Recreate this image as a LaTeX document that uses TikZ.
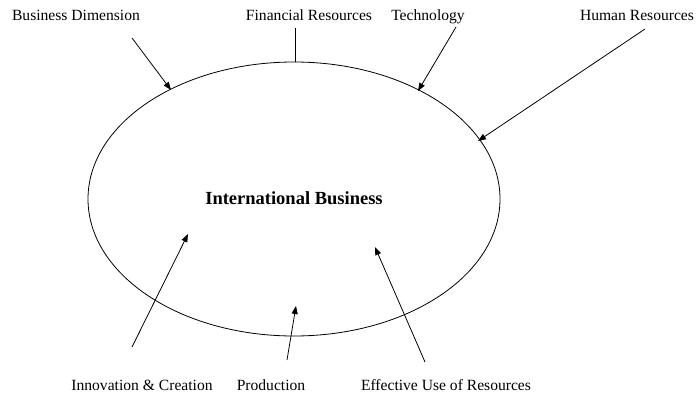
\documentclass[tikz,border=0pt]{standalone}
\usepackage{fontspec}
\setmainfont{Liberation Serif}
\usetikzlibrary{arrows.meta}
\tikzset{>={Triangle[length=8pt,width=6pt]}}

\begin{document}
\begin{tikzpicture}[x=1pt,y=-1pt,line width=.8pt,
  factor/.style={font=\fontsize{15.6}{18}\selectfont,inner sep=0pt,anchor=base}]
\useasboundingbox (0,0) rectangle (696,396);

% The business circle
\coordinate (ctr) at (294,199);
\draw (ctr) ellipse [x radius=206pt, y radius=137pt];
\node [font=\fontsize{18.5}{22}\selectfont\bfseries] (ib) at (294,198) {International Business};

% Factors on top
\node [factor] (bd)   at (76,21)  {Business Dimension};
\node [factor] (fr)   at (309,21) {Financial Resources};
\node [factor] (tech) at (428,21) {Technology};
\node [factor] (hr)   at (637,21) {Human Resources};

% Factors at the bottom
\node [factor] (inno) at (142,390) {Innovation \& Creation};
\node [factor] (prod) at (271,390) {Production};
\node [factor] (eff)  at (446,390) {Effective Use of Resources};

% Start and end points of the arrows
\coordinate (bd1) at (132,38);   \coordinate (bd2) at (171,90);
\coordinate (fr1) at (295,28);   \coordinate (fr2) at (295,62);
\coordinate (te1) at (456,27);   \coordinate (te2) at (418,91);
\coordinate (hr1) at (645,29);   \coordinate (hr2) at (478,141);
\coordinate (in1) at (132,347);  \coordinate (in2) at (188,234);
\coordinate (pr1) at (287,360);  \coordinate (pr2) at (296,306);
\coordinate (ef1) at (425,362);  \coordinate (ef2) at (375,247);

% Arrows into the circle
\draw [->] (bd1) -- (bd2);
\draw (fr1) -- (fr2);
\draw [->] (te1) -- (te2);
\draw [->] (hr1) -- (hr2);
\draw [->] (in1) -- (in2);
\draw [->] (pr1) -- (pr2);
\draw [->] (ef1) -- (ef2);
\end{tikzpicture}
\end{document}
